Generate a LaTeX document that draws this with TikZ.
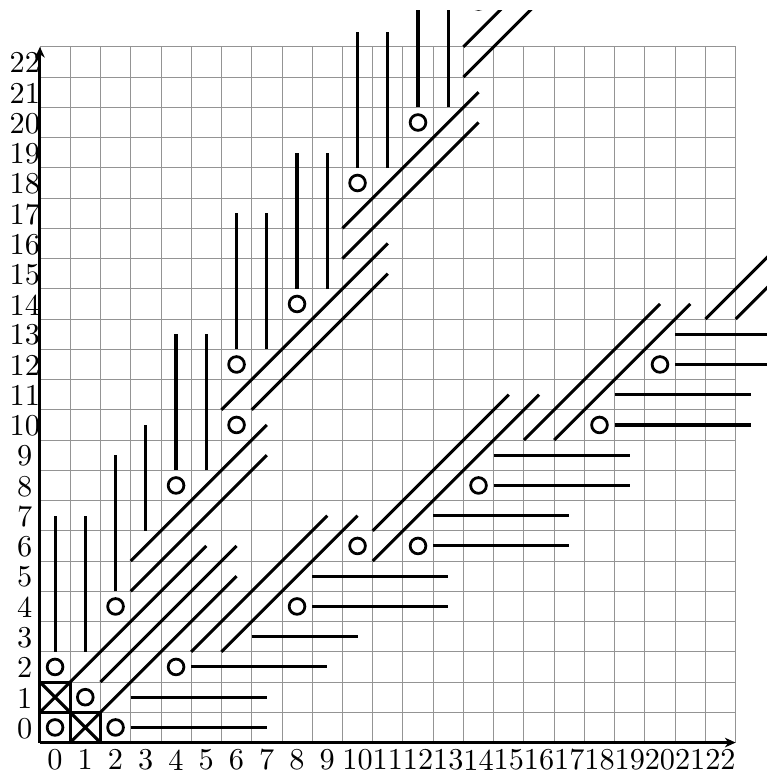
\documentclass[tikz,border=0pt]{standalone}
\usetikzlibrary{arrows.meta}
\begin{document}
\begin{tikzpicture}[x=1cm,y=1cm,
  gridline/.style={line width=0.75pt, black!42},
  heavy/.style={line width=2.9pt, black},
  ring/.style={line width=2.6pt, black},
  axisline/.style={line width=2.9pt, black, -{Stealth[length=10pt,width=9pt,inset=3pt]}},
  lbl/.style={inner sep=0pt, scale=2.85, font=\fontsize{10}{12}\selectfont}]
\useasboundingbox (-1.32,-0.94) rectangle (24.03,24.55);
\draw[gridline] (0,0) grid (23,23);
% labels
\foreach \k in {0,...,22}{
  \node[lbl] (xl\k) at (\k+0.5,-0.57) {\k};
  \node[lbl] (yl\k) at (-0.5,\k+0.47) {\k};
}
\begin{scope}
\clip (-1.32,-0.94) rectangle (24.03,24.2);
% X boxes
\foreach \a/\b in {0/1,1/0}{
  \draw[heavy] (\a,\b) rectangle ++(1,1);
  \draw[heavy] (\a,\b) -- ++(1,1) (\a+1,\b) -- ++(-1,1);
}
% circles
\foreach \a/\b in {0/0,1/1,0/2,2/0,2/4,4/2,4/8,8/4,6/10,10/6,6/12,12/6,8/14,14/8,10/18,18/10,12/20,20/12,14/24,24/14}{
  \draw[ring] (\a+0.5,\b+0.5) circle (0.26);
}
% vertical lines and mirrored horizontal lines
\foreach \p/\s/\e in {0.5/3/7.5,1.5/3/7.5,2.5/5/9.5,3.5/7/10.5,4.5/9/13.5,5.5/9/13.5,6.5/13/17.5,7.5/13/17.5,8.5/15/19.5,9.5/15/19.5,10.5/19/23.5,11.5/19/23.5,12.5/21/25.5,13.5/21/25.5}{
  \draw[heavy] (\p,\s) -- (\p,\e);
  \draw[heavy] (\s,\p) -- (\e,\p);
}
% diagonals
\draw[heavy] (2,2) -- (6.5,6.5);
\foreach \a/\b/\l in {1/2/4.5,3/5/4.5,3/6/4.5,6/11/5.5,7/11/4.5,10/16/4.5,10/17/4.5,14/22/5,14/23/5}{
  \draw[heavy] (\a,\b) -- ++(\l,\l);
  \draw[heavy] (\b,\a) -- ++(\l,\l);
}
\end{scope}
% axes
\coordinate (o) at (0,0);
\coordinate (xe) at (23,0);
\coordinate (ye) at (0,23);
\draw[axisline] (o) -- (xe);
\draw[axisline] (o) -- (ye);
\end{tikzpicture}
\end{document}
